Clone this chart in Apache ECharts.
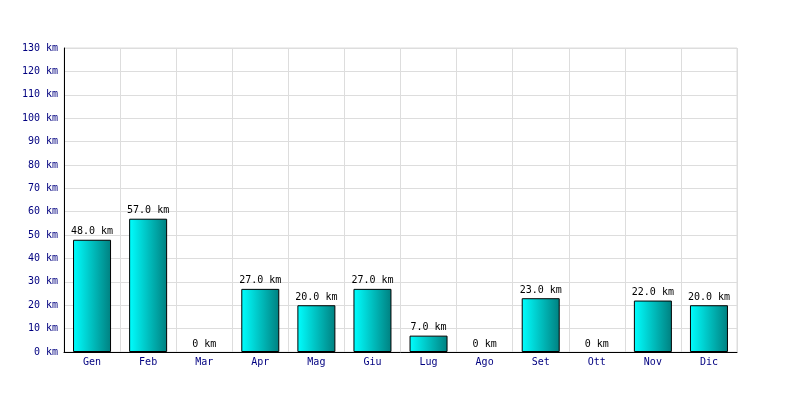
<!DOCTYPE html>
<html>
<head>
<meta charset="utf-8">
<script src="https://cdn.jsdelivr.net/npm/echarts@6/dist/echarts.min.js"></script>
<style>
  html, body { margin: 0; padding: 0; background: #fff; }
  #chart { width: 800px; height: 400px; }
</style>
</head>
<body>
<div id="chart"></div>
<script>
// Monthly distance (km)
const months = ['Gen', 'Feb', 'Mar', 'Apr', 'Mag', 'Giu', 'Lug', 'Ago', 'Set', 'Ott', 'Nov', 'Dic'];
const distances = [48, 57, 0, 27, 20, 27, 7, 0, 23, 0, 22, 20];
const yMin = 0, yMax = 130, yStep = 10;

const font = 'DejaVu Sans Mono';
const chart = echarts.init(document.getElementById('chart'), null, { renderer: 'canvas' });

// Empty months get no outline, only their label
const barData = distances.map(v => v === 0
  ? { value: v, itemStyle: { borderWidth: 0, opacity: 0 } }
  : { value: v });

chart.setOption({
  animation: false,
  backgroundColor: '#ffffff',
  grid: { left: 64, right: 63, top: 48, bottom: 48, show: true, borderColor: '#dddddd', borderWidth: 1 },
  xAxis: {
    type: 'category',
    data: months,
    axisLine: { lineStyle: { color: '#000000', width: 1 } },
    axisTick: { show: false },
    splitLine: { show: true, lineStyle: { color: '#dddddd', width: 1 } },
    axisLabel: { color: '#000080', fontFamily: font, fontSize: 10, margin: 5 }
  },
  yAxis: {
    type: 'value',
    min: yMin, max: yMax, interval: yStep,
    axisLine: { show: true, lineStyle: { color: '#000000', width: 1 } },
    axisTick: { show: false },
    splitLine: { show: true, lineStyle: { color: '#dddddd', width: 1 } },
    axisLabel: {
      color: '#000080', fontFamily: font, fontSize: 10, margin: 6,
      formatter: v => v + ' km'
    }
  },
  series: [{
    type: 'bar',
    data: barData,
    barWidth: 38,
    itemStyle: {
      borderColor: '#000000',
      borderWidth: 1,
      color: new echarts.graphic.LinearGradient(0, 0, 1, 0, [
        { offset: 0, color: '#00ffff' },
        { offset: 1, color: '#008080' }
      ])
    },
    label: {
      show: true,
      position: 'top',
      distance: 3,
      color: '#000000',
      opacity: 1,
      fontFamily: font,
      fontSize: 10,
      formatter: p => p.value === 0 ? '0 km' : p.value.toFixed(1) + ' km'
    }
  }]
});
</script>
</body>
</html>
